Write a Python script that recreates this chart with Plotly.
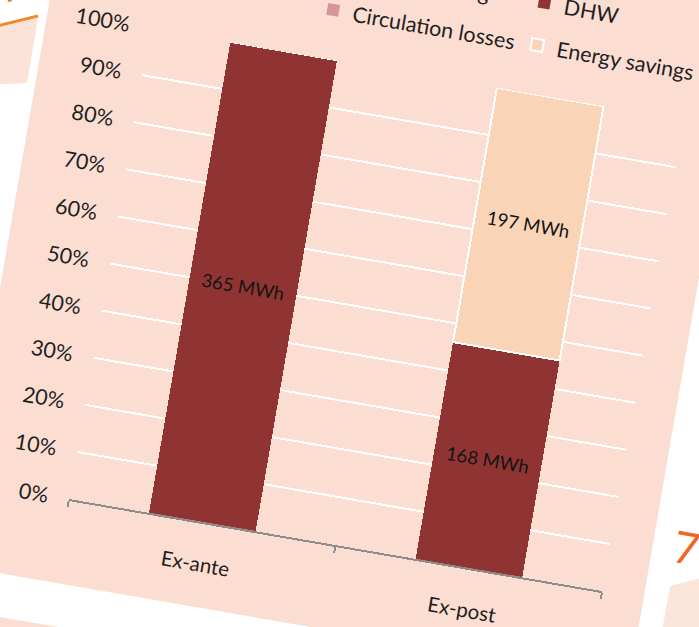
import math
import plotly.graph_objects as go

# ---------------- data ----------------
categories = ["Ex-ante", "Ex-post"]
space_heating_mwh = [0, 0]
dhw_mwh = [365, 168]
circulation_mwh = [0, 0]
savings_mwh = [0, 197]
y_tick_vals = [0, 10, 20, 30, 40, 50, 60, 70, 80, 90, 100]
y_tick_text = [f"{v}%" for v in y_tick_vals]

def mwh_labels(vals):
    return [f"{v} MWh" if v else "" for v in vals]

# ---------------- geometry ----------------
W, H = 820, 760
U0, V0 = 10, 130
ML, MT, PW, PH = 163, 132, 541, 478
MR, MB = W - ML - PW, H - MT - PH
ANG = 9.8
C, S = math.cos(math.radians(ANG)), math.sin(math.radians(ANG))

def fx(a):
    return (a - ML) / PW

def fy(b):
    return (MT + PH - b) / PH

def uv(u, v):
    return fx(u + U0), fy(v + V0)

def scr(x, y):
    return uv(x * C + y * S, -x * S + y * C)

PINK = "#FBDDD2"
DARKRED = "#8F3433"
PEACH = "#F9D4B7"
CIRC = "#D8969A"
FONT = "Lato"
TXT = "#1f1f1f"

fig = go.Figure()
fig.add_trace(go.Bar(name="Space heating", x=categories, y=space_heating_mwh,
                     marker=dict(color="#E8A87C", line=dict(width=0)), legend="legend"))
fig.add_trace(go.Bar(name="DHW", x=categories, y=dhw_mwh, text=mwh_labels(dhw_mwh),
                     textposition="inside", insidetextanchor="middle", textangle=0,
                     insidetextfont=dict(family=FONT, size=18.5, color="#141414"),
                     marker=dict(color=DARKRED, line=dict(width=0)), legend="legend2"))
fig.add_trace(go.Bar(name="Circulation losses", x=categories, y=circulation_mwh,
                     marker=dict(color=CIRC, line=dict(width=0)), legend="legend3"))
fig.add_trace(go.Bar(name="Energy savings", x=categories, y=savings_mwh, text=mwh_labels(savings_mwh),
                     textposition="inside", insidetextanchor="middle", textangle=0,
                     insidetextfont=dict(family=FONT, size=18.5, color="#141414"),
                     marker=dict(color=PEACH, line=dict(width=2, color="white")), legend="legend4"))

def leg(x, y):
    return dict(x=x, y=y, xanchor="left", yanchor="middle", bgcolor="rgba(0,0,0,0)",
                borderwidth=0, font=dict(family=FONT, size=21.5, color=TXT),
                orientation="v")

col1_x = fx(310 + U0)
col2_x = fx(517 + U0)
row1_y = fy(-90 + V0)
row2_y = fy(-47 + V0)

shapes = []
# white strip left of panel
shapes.append(dict(type="rect", xref="paper", yref="paper", layer="below",
                   x0=fx(-60), x1=fx(49 + U0), y0=fy(-100), y1=fy(900),
                   fillcolor="white", line=dict(width=0)))
# peach box top-left
pts = [scr(-40, 36), scr(38, 18), scr(27, 83), scr(-40, 86)]
shapes.append(dict(type="path", xref="paper", yref="paper", layer="below",
                   path="M" + " L".join(f"{p[0]},{p[1]}" for p in pts) + " Z",
                   fillcolor="#FBE4D7", line=dict(width=0)))
p1, p2 = scr(-40, 35), scr(38, 16)
shapes.append(dict(type="line", xref="paper", yref="paper", layer="below",
                   x0=p1[0], y0=p1[1], x1=p2[0], y1=p2[1], line=dict(color="#F08A2B", width=3)))
# bottom white band
shapes.append(dict(type="rect", xref="paper", yref="paper", layer="below",
                   x0=fx(49 + U0), x1=fx(900), y0=fy(565 + V0), y1=fy(608 + V0),
                   fillcolor="white", line=dict(width=0)))
# right white strip
shapes.append(dict(type="rect", xref="paper", yref="paper", layer="below",
                   x0=fx(736 + U0), x1=fx(1000), y0=fy(-100), y1=fy(900),
                   fillcolor="white", line=dict(width=0)))
pts = [scr(670, 586), scr(740, 568), scr(740, 700), scr(650, 700)]
shapes.append(dict(type="path", xref="paper", yref="paper", layer="below",
                   path="M" + " L".join(f"{p[0]},{p[1]}" for p in pts) + " Z",
                   fillcolor="#FAE5D9", line=dict(width=0)))

annotations = []
ax7, ay7 = scr(687, 547)
annotations.append(dict(text="7", x=ax7, y=ay7, xref="paper", yref="paper", showarrow=False,
                        xanchor="center", yanchor="middle",
                        font=dict(family=FONT, size=44, color="#F26522")))
axn, ayn = scr(16, 12)
annotations.append(dict(text="<b>ne</b>", x=axn, y=ayn, xref="paper", yref="paper", showarrow=False,
                        xanchor="center", yanchor="bottom", textangle=-22,
                        font=dict(family=FONT, size=30, color="#F07D1A")))

fig.update_layout(
    width=W, height=H,
    margin=dict(l=ML, r=MR, t=MT, b=MB, autoexpand=False),
    paper_bgcolor=PINK, plot_bgcolor="rgba(0,0,0,0)",
    barmode="stack", barnorm="percent", bargap=0.6,
    font=dict(family=FONT, color=TXT),
    showlegend=True,
    legend=leg(col1_x, row1_y),
    legend2=leg(col2_x, row1_y),
    legend3=leg(col1_x, row2_y),
    legend4=leg(col2_x, row2_y),
    shapes=shapes,
    annotations=annotations,
    xaxis=dict(type="category", showline=True, linecolor="#8C8C8C", linewidth=2,
               ticks="outside", tickson="boundaries", ticklen=6, tickcolor="#8C8C8C", tickwidth=2,
               ticklabelstandoff=23, showgrid=False,
               tickfont=dict(family=FONT, size=20.5, color=TXT)),
    yaxis=dict(range=[0, 100], tickmode="array", tickvals=y_tick_vals, ticktext=y_tick_text,
               showgrid=True, gridcolor="white", gridwidth=2, zeroline=False, showline=False,
               ticklabelstandoff=20,
               tickfont=dict(family=FONT, size=21.5, color=TXT)),
)

post = f"""
var gd = document.getElementById('{{plot_id}}');
document.documentElement.style.margin='0';
document.body.style.margin='0';
document.documentElement.style.overflow='hidden';
document.body.style.overflow='hidden';
document.body.style.background='{PINK}';
gd.style.position='absolute';
gd.style.left='0px';
gd.style.top='0px';
gd.style.transformOrigin='0 0';
gd.style.transform='rotate({ANG}deg) translate(-{U0}px,-{V0}px)';
"""

fig.write_html("out.html", config={"displayModeBar": False}, post_script=post)
